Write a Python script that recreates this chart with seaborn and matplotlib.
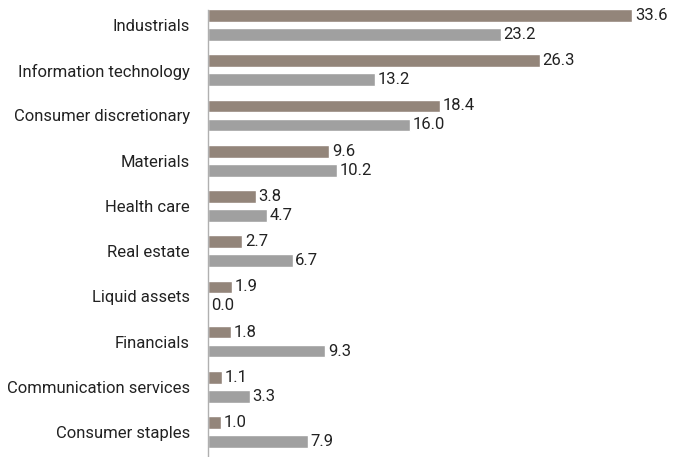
import matplotlib
matplotlib.use("Agg")
import matplotlib.pyplot as plt
import pandas as pd
import seaborn as sns

categories = ["Industrials", "Information technology", "Consumer discretionary",
              "Materials", "Health care", "Real estate", "Liquid assets",
              "Financials", "Communication services", "Consumer staples"]
fund = [33.6, 26.3, 18.4, 9.6, 3.8, 2.7, 1.9, 1.8, 1.1, 1.0]
benchmark = [23.2, 13.2, 16.0, 10.2, 4.7, 6.7, 0.0, 9.3, 3.3, 7.9]
series = ["Fund", "Benchmark"]

df = pd.DataFrame({
    "category": categories * 2,
    "value": fund + benchmark,
    "series": [series[0]] * len(fund) + [series[1]] * len(benchmark),
})

sns.set_style("white")
plt.rcParams["font.family"] = ["Roboto", "DejaVu Sans"]

fig = plt.figure(figsize=(6.85, 4.57), dpi=100)
ax = fig.add_axes([208 / 685, 0.0, 1 - 208 / 685, 1 - 10 / 457])

sns.barplot(data=df, y="category", x="value", hue="series", orient="h",
            palette=["#93857a", "#a0a0a0"], width=0.84, gap=0.33,
            saturation=1, legend=False, ax=ax)

for cont in ax.containers:
    ax.bar_label(cont, fmt="%.1f", padding=2, fontsize=12, color="#222222")

ax.set_xlim(0, 37.8)
ax.set_ylim(9.55, -0.33)
ax.set_xlabel("")
ax.set_ylabel("")
ax.set_xticks([])
for side in ["top", "right", "bottom"]:
    ax.spines[side].set_visible(False)
ax.spines["left"].set_color("#b0b0b0")
ax.spines["left"].set_linewidth(1)
ax.tick_params(axis="y", length=0, pad=13, labelsize=12, labelcolor="#222222")

fig.savefig("out.png", dpi=100)
